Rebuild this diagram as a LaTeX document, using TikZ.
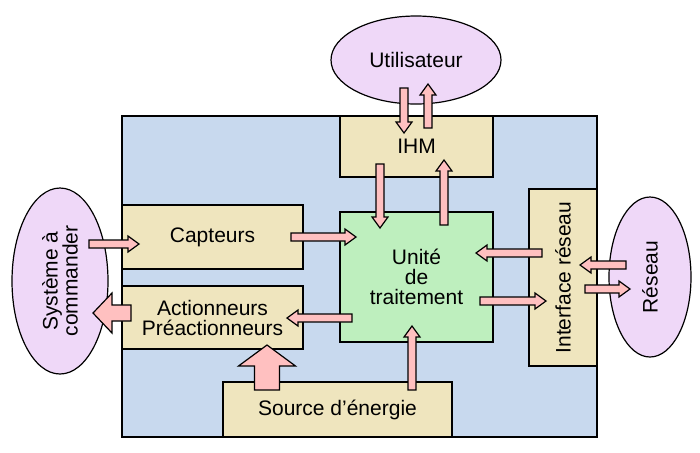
\documentclass[tikz,border=0pt]{standalone}
\usepackage{fontspec}
\setmainfont{Liberation Sans}
\usetikzlibrary{calc,shapes.geometric}
\definecolor{fond}{HTML}{C8D9EE}
\definecolor{sable}{HTML}{EFE5BE}
\definecolor{vert}{HTML}{BEEFBE}
\definecolor{mauve}{HTML}{EFD8F8}
\definecolor{rose}{HTML}{FFC0C0}
\tikzset{
  tige/.store in=\flTige, tete/.store in=\flTete, pointe/.store in=\flPointe,
  tige=2pt, tete=4pt, pointe=5.5pt,
  flux/.style={draw,fill=rose,line width=0.6pt,line join=miter,
    to path={let \p1=(\tikztostart), \p2=(\tikztotarget),
      \n1={atan2(\y2-\y1,\x2-\x1)}, \n2={veclen(\x2-\x1,\y2-\y1)-\flPointe} in
      ($(\p1)+(\n1+90:\flTige)$) -- ($(\p1)+(\n1:\n2)+(\n1+90:\flTige)$)
      -- ($(\p1)+(\n1:\n2)+(\n1+90:\flTete)$) -- (\p2)
      -- ($(\p1)+(\n1:\n2)+(\n1-90:\flTete)$) -- ($(\p1)+(\n1:\n2)+(\n1-90:\flTige)$)
      -- ($(\p1)+(\n1-90:\flTige)$) -- cycle}},
  gros/.style={flux,tige=4pt,tete=10pt,pointe=9.5pt}
}
\begin{document}
\begin{tikzpicture}[x=0.5pt,y=-0.5pt,font=\fontsize{10.5}{10}\selectfont,
    bloc/.style={draw,fill=sable,line width=0.6pt,inner sep=0pt,align=center},
    ext/.style={ellipse,draw,fill=mauve,line width=0.6pt,inner sep=0pt,align=center}]
  \useasboundingbox (0,0) rectangle (700,452);
  % le systeme
  \node[draw,fill=fond,line width=0.6pt,minimum width=237.5pt,minimum height=160.5pt] (cadre) at (359.5,276.5) {};
  \node[bloc,minimum width=76.5pt,minimum height=30.5pt] (ihm) at (416.5,146.5) {IHM};
  \node[bloc,fill=vert,minimum width=76.5pt,minimum height=65pt] (unite) at (416.5,277) {Unité\\de\\traitement};
  \node[bloc,minimum width=90.5pt,minimum height=32pt] (capt) at (212.5,237) {Capteurs};
  \node[bloc,minimum width=90.5pt,minimum height=31.5pt] (act) at (212.5,317.5) {Actionneurs\\Préactionneurs};
  \node[bloc,minimum width=114.5pt,minimum height=27.5pt] (src) at (337.5,409.5) {Source d’énergie};
  \node[bloc,rotate=90,minimum width=88.5pt,minimum height=34pt] (iface) at (563,277.5) {Interface réseau};
  % l'exterieur
  \node[ext,minimum width=85pt,minimum height=44pt] (util) at (416,60) {Utilisateur};
  \node[ext,rotate=90,minimum width=93pt,minimum height=48pt] (sys) at (60,281) {Système à\\commander};
  \node[ext,rotate=90,minimum width=80pt,minimum height=41pt] (reseau) at (650,277) {Réseau};
  % les flux
  \draw[flux] ($(util)+(-12,28)$) to ($(ihm)+(-12.5,-13.5)$);
  \draw[flux] ($(ihm)+(11.5,-18.5)$) to ($(util)+(12,24)$);
  \draw[flux] ($(ihm)+(-36.5,17.5)$) to ($(unite)+(-36.5,-49)$);
  \draw[flux] ($(unite)+(27.5,-52)$) to ($(ihm)+(27.5,13.5)$);
  \draw[flux] ($(sys)+(29,-37)$) to ($(capt)+(-73.5,7)$);
  \draw[flux] ($(capt)+(78.5,0)$) to ($(unite)+(-60.5,-40)$);
  \draw[flux] ($(unite)+(-64.5,41)$) to ($(act)+(74.5,0.5)$);
  \draw[gros] ($(act)+(-81.5,-4.5)$) to ($(sys)+(33,32)$);
  \draw[gros,tige=6.25pt,tete=14.25pt,pointe=10.5pt] ($(src)+(-70.5,-19.5)$) to ($(act)+(54.5,27.5)$);
  \draw[flux] ($(src)+(74.5,-19.5)$) to ($(unite)+(-4.5,49)$);
  \draw[flux] ($(iface)+(-21,-24.5)$) to ($(unite)+(59.5,-24)$);
  \draw[flux] ($(unite)+(63.5,24)$) to ($(iface)+(-17,23.5)$);
  \draw[flux] ($(reseau)+(-24,-12)$) to ($(iface)+(17,-12.5)$);
  \draw[flux] ($(iface)+(22,11.5)$) to ($(reseau)+(-20,12)$);
\end{tikzpicture}
\end{document}
